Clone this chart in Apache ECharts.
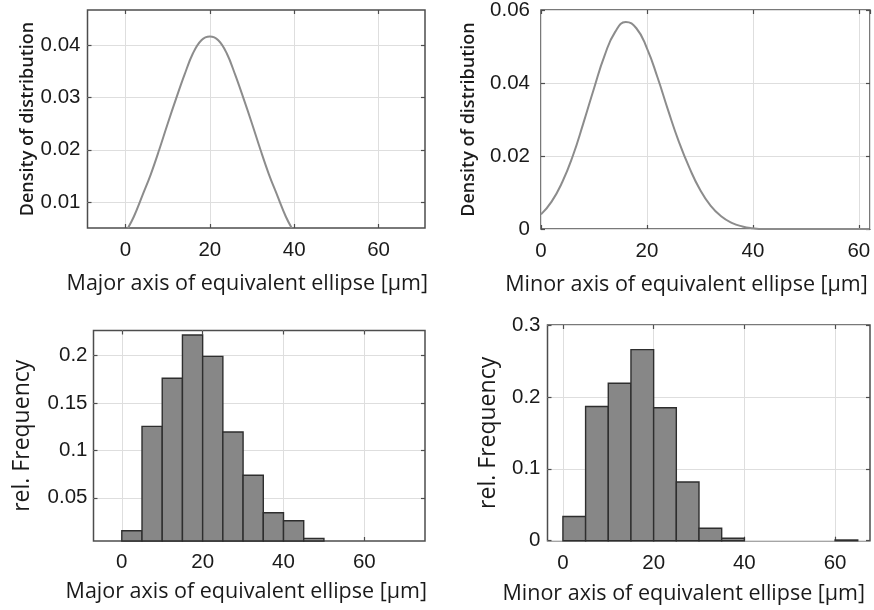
<!DOCTYPE html>
<html>
<head>
<meta charset="utf-8">
<script src="https://cdn.jsdelivr.net/npm/echarts@6/dist/echarts.min.js"></script>
<style>
html,body{margin:0;padding:0;background:#fff;}
#chart{width:874px;height:610px;}
</style>
</head>
<body>
<div id="chart"></div>
<script>
// ---- Data ----
// Top-left: density of major axis
const majorDensityX = [0.6, 2, 4, 6, 8, 10, 12, 14, 16, 18, 20, 22, 24, 26, 28, 30, 32, 34, 36, 38, 39.4];
const majorDensityY = [0.0050, 0.0072, 0.0112, 0.0153, 0.0200, 0.0250, 0.0298, 0.0344, 0.0385, 0.0410, 0.0417,
                       0.0410, 0.0385, 0.0344, 0.0298, 0.0250, 0.0200, 0.0153, 0.0112, 0.0072, 0.0050];
// Top-right: density of minor axis
const minorDensityX = [0, 2, 4, 6, 8, 10, 12, 14, 16, 18, 20, 22, 24, 26, 28, 30, 32, 34, 36, 38, 40, 42, 50, 62];
const minorDensityY = [0.0040, 0.0075, 0.0128, 0.0200, 0.0290, 0.0385, 0.0475, 0.0540, 0.0567, 0.0550, 0.0495,
                       0.0415, 0.0325, 0.0240, 0.0168, 0.0108, 0.0064, 0.0035, 0.0017, 0.0007, 0.0002, 0.0, 0.0, 0.0];
// Bottom-left: histogram of major axis (bin edges, relative frequency)
const majorBinEdges = [0, 5, 10, 15, 20, 25, 30, 35, 40, 45, 50];
const majorFreq = [0.0153, 0.1253, 0.1760, 0.2216, 0.1990, 0.1193, 0.0738, 0.0342, 0.0258, 0.0073];
// Bottom-right: histogram of minor axis
const minorBinEdges = [0, 5, 10, 15, 20, 25, 30, 35, 40, 45, 50, 55, 60, 65];
const minorFreq = [0.0336, 0.1866, 0.2190, 0.2657, 0.1850, 0.0817, 0.0173, 0.0034, 0, 0, 0, 0, 0.0010];

// Tick labels
const xTicksMajor = [0, 20, 40, 60];
const xTicksMinor = [0, 20, 40, 60];
const yTicksDensityMajor = [0.01, 0.02, 0.03, 0.04];
const yTicksFreqMajor = [0.05, 0.1, 0.15, 0.2];

// Axis ranges
const xRange1 = [-9, 71], yRange1 = [0.005, 0.0468];
const xRange2 = [0, 62.1], yRange2 = [0, 0.06];
const xRange3 = [-7, 75], yRange3 = [0.0045, 0.2263];
const xRange4 = [-3.4, 67.7], yRange4 = [0, 0.3];

// Titles
const xTitleMajor = 'Major axis of equivalent ellipse [µm]';
const xTitleMinor = 'Minor axis of equivalent ellipse [µm]';
const yTitleDensity = 'Density of distribution';
const yTitleFreq = 'rel. Frequency';

// ---- Styling ----
const tickFont = {fontFamily: 'Liberation Sans', fontSize: 20.5, color: '#1a1a1a'};
const titleFont = {fontFamily: 'Open Sans', fontSize: 21.5, color: '#1a1a1a'};
const gridLine = {show: true, lineStyle: {color: '#dedede', width: 1}};
const frame = {show: true, borderColor: '#4d4d4d', borderWidth: 1.5, backgroundColor: '#fff',
               containLabel: false, outerBoundsMode: 'none'};
const tickStyle = {show: true, inside: true, length: 4, lineStyle: {color: '#4d4d4d', width: 1.2}};
const noLine = {show: false, onZero: false};

function pairs(xs, ys) { return xs.map((x, i) => [x, ys[i]]); }
function bins(edges, vals) { return vals.map((v, i) => [edges[i], edges[i + 1], v]); }

function xAxis(gridIndex, range, ticks, name, nameGap, labelMargin, namePad) {
  const a = {
    type: 'value', gridIndex, position: 'bottom', min: range[0], max: range[1],
    name, nameLocation: 'middle', nameGap,
    nameTextStyle: Object.assign({padding: namePad || 0}, titleFont),
    axisLine: noLine,
    axisTick: Object.assign({}, tickStyle),
    axisLabel: Object.assign({margin: labelMargin}, tickFont),
    splitLine: gridLine
  };
  if (ticks) {
    a.axisTick.customValues = ticks;
    a.axisLabel.customValues = ticks;
  } else {
    a.interval = 20;
  }
  return a;
}
function xAxisTop(gridIndex, range, ticks) {
  const a = {
    type: 'value', gridIndex, position: 'top', min: range[0], max: range[1],
    axisLine: noLine, axisTick: Object.assign({}, tickStyle),
    axisLabel: {show: false}, splitLine: {show: false}
  };
  if (ticks) a.axisTick.customValues = ticks; else a.interval = 20;
  return a;
}
function yAxis(gridIndex, range, ticks, interval, name, nameGap, labelMargin, nameStyle) {
  const a = {
    type: 'value', gridIndex, position: 'left', min: range[0], max: range[1],
    name, nameLocation: 'middle', nameGap, nameRotate: 90,
    nameTextStyle: Object.assign({}, titleFont, nameStyle || {}),
    axisLine: noLine,
    axisTick: Object.assign({}, tickStyle),
    axisLabel: Object.assign({margin: labelMargin, formatter: v => String(+v.toFixed(4))}, tickFont),
    splitLine: gridLine
  };
  if (ticks) {
    a.axisTick.customValues = ticks;
    a.axisLabel.customValues = ticks;
  } else {
    a.interval = interval;
  }
  return a;
}
function yAxisRight(gridIndex, range, ticks, interval) {
  const a = {
    type: 'value', gridIndex, position: 'right', min: range[0], max: range[1],
    axisLine: noLine, axisTick: Object.assign({}, tickStyle),
    axisLabel: {show: false}, splitLine: {show: false}
  };
  if (ticks) a.axisTick.customValues = ticks; else a.interval = interval;
  return a;
}

function histSeries(xi, yi, data, yMin) {
  return {
    type: 'custom', xAxisIndex: xi, yAxisIndex: yi, data,
    renderItem: function (params, api) {
      const v = api.value(2);
      if (!(v > 0)) return null;
      const p0 = api.coord([api.value(0), v]);
      const p1 = api.coord([api.value(1), yMin]);
      return {
        type: 'rect',
        shape: {x: p0[0], y: p0[1], width: p1[0] - p0[0], height: p1[1] - p0[1]},
        style: {fill: '#878787', stroke: '#2e2e2e', lineWidth: 1.4}
      };
    },
    encode: {x: [0, 1], y: 2}
  };
}

const chart = echarts.init(document.getElementById('chart'), null, {renderer: 'canvas'});
chart.setOption({
  animation: false,
  backgroundColor: '#fff',
  grid: [
    Object.assign({left: 87.5, top: 10, width: 337.5, height: 218}, frame),
    Object.assign({left: 541, top: 10, width: 329, height: 219}, frame),
    Object.assign({left: 93.5, top: 330.5, width: 331.5, height: 210.5}, frame),
    Object.assign({left: 547.5, top: 325, width: 322.5, height: 215.7}, frame)
  ],
  xAxis: [
    xAxis(0, xRange1, xTicksMajor, xTitleMajor, 45, 12, [0, 18, 0, 0]),
    xAxis(1, xRange2, null, xTitleMinor, 45, 12, [0, 38, 0, 0]),
    xAxis(2, xRange3, xTicksMajor, xTitleMajor, 40, 11, [0, 26, 0, 0]),
    xAxis(3, xRange4, xTicksMinor, xTitleMinor, 42, 12, [0, 50, 0, 0]),
    xAxisTop(0, xRange1, xTicksMajor),
    xAxisTop(1, xRange2, null),
    xAxisTop(2, xRange3, xTicksMajor),
    xAxisTop(3, xRange4, xTicksMinor)
  ],
  yAxis: [
    yAxis(0, yRange1, yTicksDensityMajor, null, yTitleDensity, 49, 7, {fontSize: 18, fontWeight: 600}),
    yAxis(1, yRange2, null, 0.02, yTitleDensity, 63, 11, {fontSize: 18, fontWeight: 600}),
    yAxis(2, yRange3, yTicksFreqMajor, null, yTitleFreq, 60, 6, {fontSize: 23}),
    yAxis(3, yRange4, null, 0.1, yTitleFreq, 48, 7, {fontSize: 23}),
    yAxisRight(0, yRange1, yTicksDensityMajor, null),
    yAxisRight(1, yRange2, null, 0.02),
    yAxisRight(2, yRange3, yTicksFreqMajor, null),
    yAxisRight(3, yRange4, null, 0.1)
  ],
  series: [
    {type: 'line', xAxisIndex: 0, yAxisIndex: 0, data: pairs(majorDensityX, majorDensityY),
     smooth: 0.4, showSymbol: false, lineStyle: {color: '#8c8c8c', width: 2}},
    {type: 'line', xAxisIndex: 1, yAxisIndex: 1, data: pairs(minorDensityX, minorDensityY),
     smooth: 0.5, showSymbol: false, lineStyle: {color: '#8c8c8c', width: 2}},
    histSeries(2, 2, bins(majorBinEdges, majorFreq), yRange3[0]),
    histSeries(3, 3, bins(minorBinEdges, minorFreq), yRange4[0])
  ]
});
</script>
</body>
</html>
